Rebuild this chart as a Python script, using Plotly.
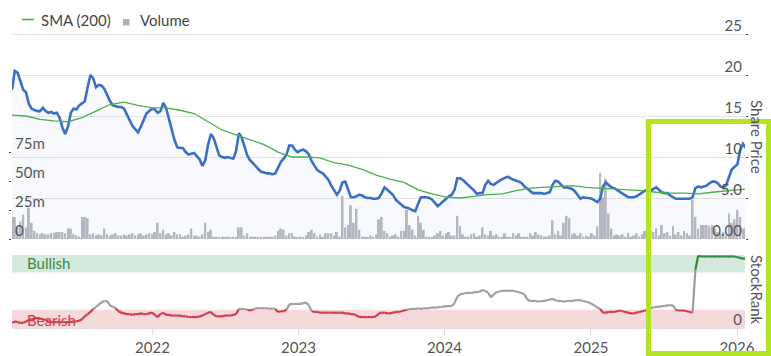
import pandas as pd
import plotly.graph_objects as go

# ---------------- data (weekly) ----------------
start_date = "2021-01-15"
n_weeks = 263
dates = pd.date_range(start_date, periods=n_weeks, freq="7D")

price = [
    18.2, 20.5, 20.3, 19.2, 18.2, 17.9, 16.5, 15.9, 15.7, 15.6,
    15.6, 16.0, 15.6, 15.4, 15.5, 15.3, 15.4, 14.8, 13.6, 12.8,
    13.7, 15.4, 15.9, 15.8, 16.3, 16.5, 16.8, 18.5, 20.0, 19.6,
    18.5, 18.8, 18.7, 18.3, 17.5, 16.8, 16.3, 16.2, 16.1, 16.1,
    15.9, 15.2, 14.5, 13.8, 13.4, 13.0, 13.7, 14.6, 15.3, 15.6,
    15.9, 15.8, 15.4, 15.6, 16.6, 16.0, 14.6, 13.5, 12.1, 11.2,
    11.1, 11.1, 10.6, 10.3, 10.4, 10.5, 10.1, 9.7, 8.9, 9.6,
    11.5, 12.8, 12.3, 11.1, 10.2, 10.0, 9.9, 10.0, 9.9, 9.8,
    10.7, 12.9, 12.4, 11.3, 10.2, 9.6, 9.3, 8.9, 8.5, 8.2,
    8.1, 8.0, 8.0, 7.9, 8.0, 8.7, 9.4, 9.8, 10.3, 11.4,
    11.4, 10.9, 10.6, 10.8, 10.9, 10.7, 10.3, 9.5, 8.9, 8.4,
    8.2, 8.0, 7.6, 7.2, 6.5, 5.9, 5.4, 5.9, 6.9, 7.0,
    6.0, 5.1, 5.1, 5.2, 5.4, 5.3, 5.1, 5.0, 5.0, 4.9,
    4.9, 5.0, 5.6, 6.3, 6.0, 5.7, 5.4, 4.8, 4.5, 4.3,
    3.9, 3.8, 3.7, 3.5, 3.4, 4.3, 5.1, 5.1, 5.1, 5.0,
    4.8, 4.4, 4.0, 4.3, 4.6, 5.0, 5.2, 5.4, 6.0, 7.4,
    7.4, 7.2, 6.9, 6.6, 6.3, 5.9, 5.5, 5.6, 5.6, 6.6,
    7.1, 6.7, 6.6, 6.9, 7.1, 7.3, 7.5, 7.6, 7.4, 7.2,
    7.1, 7.0, 6.8, 6.4, 6.1, 5.8, 5.6, 5.6, 5.6, 5.6,
    5.5, 5.6, 5.7, 6.6, 7.1, 7.0, 6.6, 6.3, 6.3, 6.2,
    6.1, 5.8, 5.4, 4.9, 5.1, 5.0, 5.0, 4.9, 4.7, 4.5,
    4.9, 6.4, 6.9, 6.6, 6.3, 6.2, 6.0, 5.8, 5.5, 5.3,
    5.1, 5.1, 5.1, 5.2, 5.4, 5.7, 5.9, 5.9, 5.9, 6.1,
    6.3, 6.0, 5.7, 5.6, 5.6, 5.3, 5.1, 4.9, 4.9, 4.9,
    4.9, 4.9, 4.9, 5.1, 6.2, 6.4, 6.3, 6.4, 6.5, 6.8,
    7.0, 7.0, 6.8, 6.4, 6.3, 6.6, 7.5, 8.5, 8.8, 9.1,
    10.9, 11.6, 11.1,
]

volume_m = [
    19, 19, 10, 15, 21, 10, 27, 14, 7, 5,
    4, 5, 4, 4, 5, 5, 6, 6, 6, 5,
    9, 9, 4, 3, 2, 19, 19, 18, 4, 5,
    3, 4, 3, 9, 4, 3, 4, 5, 3, 3,
    4, 3, 4, 5, 3, 4, 5, 3, 4, 5,
    4, 6, 14, 5, 8, 4, 5, 3, 6, 4,
    4, 2, 3, 4, 9, 3, 3, 2, 4, 14,
    6, 8, 2, 2, 1, 2, 1, 2, 1, 2,
    1, 10, 10, 3, 5, 2, 2, 2, 1, 2,
    2, 1, 2, 2, 3, 7, 9, 8, 3, 5,
    5, 2, 1, 2, 1, 3, 6, 8, 5, 2,
    4, 2, 5, 5, 5, 3, 6, 2, 37, 10,
    12, 29, 14, 26, 8, 2, 2, 1, 3, 2,
    4, 17, 19, 7, 5, 2, 3, 4, 2, 7,
    7, 25, 12, 8, 3, 20, 14, 8, 2, 2,
    1, 3, 5, 7, 3, 5, 6, 3, 3, 20,
    11, 4, 2, 2, 4, 5, 2, 3, 10, 4,
    3, 7, 3, 4, 2, 2, 5, 2, 1, 5,
    3, 5, 2, 2, 2, 5, 3, 6, 4, 3,
    2, 2, 3, 16, 4, 7, 3, 14, 20, 18,
    4, 5, 3, 5, 2, 3, 2, 5, 3, 11,
    57, 36, 52, 22, 9, 3, 4, 3, 4, 2,
    5, 2, 3, 5, 2, 4, 7, 3, 8, 6,
    9, 3, 12, 5, 6, 3, 11, 4, 6, 3,
    7, 5, 3, 34, 19, 9, 12, 12, 12, 11,
    12, 9, 6, 5, 6, 3, 22, 14, 17, 25,
    19, 9, 10,
]

# SMA(200) read every 5 weeks (index into weekly dates)
sma_idx = list(range(0, 261, 5)) + [262]
sma_vals = [
    15.1, 15.0, 14.6, 14.4, 14.3, 14.8, 15.6, 16.4, 16.7, 16.3,
    16.0, 16.0, 15.7, 15.3, 14.3, 13.3, 12.7, 12.1, 11.5, 10.6,
    10.0, 10.0, 9.9, 9.3, 9.0, 8.5, 7.8, 7.3, 6.9, 6.0,
    5.5, 5.1, 5.0, 5.2, 5.4, 5.5, 5.9, 6.2, 6.3, 6.4,
    6.5, 6.3, 6.2, 6.1, 6.0, 5.9, 5.7, 5.6, 5.6, 5.5,
    5.7, 5.9, 6.1, 6.1,
]

stockrank = [
    7, 9, 8, 7, 7, 9, 11, 12, 13, 14,
    13, 12, 11, 9, 8, 8, 8, 8, 8, 8,
    8, 8, 9, 9, 10, 12, 16, 19, 22, 26,
    29, 32, 35, 37, 37, 31, 29, 27, 23, 21,
    20, 19, 19, 18, 19, 19, 20, 19, 19, 20,
    21, 18, 15, 19, 21, 18, 18, 17, 17, 17,
    17, 16, 16, 15, 15, 15, 15, 16, 17, 19,
    21, 22, 18, 16, 16, 16, 17, 17, 17, 18,
    19, 26, 26, 26, 25, 24, 25, 27, 27, 27,
    27, 27, 26, 27, 26, 22, 23, 23, 25, 32,
    33, 33, 33, 33, 34, 35, 31, 23, 22, 22,
    21, 21, 21, 21, 21, 21, 21, 21, 21, 20,
    20, 19, 19, 17, 15, 15, 15, 15, 15, 15,
    16, 20, 21, 21, 20, 20, 21, 22, 22, 23,
    24, 25, 26, 26, 26, 27, 26, 27, 27, 27,
    28, 28, 28, 29, 29, 30, 30, 30, 34, 43,
    46, 47, 48, 48, 48, 49, 49, 50, 52, 51,
    48, 42, 46, 49, 50, 51, 51, 51, 51, 51,
    50, 49, 48, 46, 39, 37, 37, 37, 36, 37,
    37, 38, 39, 40, 38, 37, 37, 36, 37, 37,
    37, 38, 38, 38, 37, 36, 35, 33, 31, 28,
    26, 21, 21, 22, 22, 22, 23, 24, 23, 22,
    21, 20, 20, 21, 22, 23, 24, 25, 27, 28,
    29, 29, 30, 30, 31, 31, 31, 25, 24, 24,
    24, 23, 22, 21, 80, 99, 98, 98, 98, 98,
    98, 98, 98, 98, 98, 98, 98, 98, 98, 97,
    96, 95, 95,
]

price_ticks = [0, 5, 10, 15, 20, 25]
price_ticktext = ["0.00", "5.0", "10", "15", "20", "25"]
vol_ticks = [0, 25, 50, 75]
vol_ticktext = ["0", "25m", "50m", "75m"]
year_ticks = ["2022-01-01", "2023-01-01", "2024-01-01", "2025-01-01", "2026-01-01"]
year_labels = ["2022", "2023", "2024", "2025", "2026"]

bearish_max, bullish_min = 25.5, 75

# ---------------- figure ----------------
W, H = 771, 356
ML, MR, MT, MB = 12, 26, 18, 28
PW = W - ML - MR
PH = H - MT - MB
FONT = "Lato, 'Open Sans', sans-serif"
TXT = "#555555"
SMA_COL = "#4cae4c"
VOL_COL = "#b9bac1"

# pixel layout helpers (pixel rows from the top of the figure)
PRICE_ZERO_PX, PRICE_PX_PER_UNIT = 239, 41 / 5
VOL_PX_PER_M = 29 / 25
SR_TOP_PX = 255


def py(p):  # pixel row -> paper y
    return (H - MB - p) / PH


def px(p):  # pixel col -> paper x
    return (p - ML) / PW


fig = go.Figure()

fig.add_trace(go.Bar(
    x=dates, y=volume_m, name="Volume", yaxis="y", xaxis="x",
    marker=dict(color=VOL_COL, line=dict(width=0)),
    showlegend=False, hoverinfo="skip",
))

fig.add_trace(go.Scatter(
    x=dates, y=price, yaxis="y2", xaxis="x", mode="lines",
    line=dict(color="#3b6fc2", width=2.6),
    fill="tozeroy", fillcolor="rgba(70,110,190,0.045)",
    showlegend=False, hoverinfo="skip",
))

fig.add_trace(go.Scatter(
    x=[dates[i] for i in sma_idx], y=sma_vals, yaxis="y2", xaxis="x",
    mode="lines", name="SMA (200)", line=dict(color=SMA_COL, width=1.3),
    showlegend=False, hoverinfo="skip",
))

# StockRank line, coloured by zone
segs = {"red": ([], []), "gray": ([], []), "green": ([], [])}
for i in range(len(stockrank) - 1):
    mid = (stockrank[i] + stockrank[i + 1]) / 2
    key = "red" if mid < bearish_max else ("green" if mid > bullish_min else "gray")
    xs, ys = segs[key]
    xs += [dates[i], dates[i + 1], None]
    ys += [stockrank[i], stockrank[i + 1], None]
zone_col = {"red": "#d43a4b", "gray": "#9c9c9c", "green": "#2b8a3e"}
for k, (xs, ys) in segs.items():
    fig.add_trace(go.Scatter(
        x=xs, y=ys, yaxis="y3", xaxis="x", mode="lines",
        line=dict(color=zone_col[k], width=2.2), showlegend=False,
        connectgaps=False, hoverinfo="skip",
    ))

price_top_val = (PRICE_ZERO_PX - MT) / PRICE_PX_PER_UNIT
vol_top_val = (PRICE_ZERO_PX - MT) / VOL_PX_PER_M

fig.update_layout(
    width=W, height=H,
    margin=dict(l=ML, r=MR, t=MT, b=MB, autoexpand=False),
    paper_bgcolor="white", plot_bgcolor="white",
    font=dict(family=FONT, size=15, color=TXT),
    bargap=0.3,
    showlegend=False,
    xaxis=dict(type="date", range=["2021-01-15", "2026-01-21"], anchor="y3",
               showgrid=False, zeroline=False,
               showline=True, linecolor="#e0e0e0", linewidth=1,
               tickvals=year_ticks, ticktext=year_labels,
               ticks="outside", ticklen=6, tickcolor="#dcdcdc",
               ticklabeloverflow="allow",
               tickfont=dict(size=15, color=TXT)),
    yaxis=dict(domain=[py(PRICE_ZERO_PX), 1.0], range=[0, vol_top_val],
               side="left", showgrid=False, zeroline=False,
               tickvals=vol_ticks, ticktext=vol_ticktext,
               ticklabelposition="inside", ticklabelshift=-8,
               ticklabeloverflow="allow",
               ticks="outside", ticklen=2, tickcolor="#444",
               tickfont=dict(size=15, color=TXT)),
    yaxis2=dict(overlaying="y", side="right", range=[0, price_top_val],
                showgrid=True, gridcolor="#e4e4e4", gridwidth=1, zeroline=False,
                tickvals=price_ticks, ticktext=price_ticktext,
                ticklabelposition="inside", ticklabelshift=-8,
                ticklabeloverflow="allow",
                ticks="outside", ticklen=2, tickcolor="#444",
                tickfont=dict(size=15, color=TXT)),
    yaxis3=dict(domain=[0, py(SR_TOP_PX)], range=[0, 100], side="right", anchor="x",
                showgrid=False, zeroline=False,
                tickvals=[0], ticktext=["0"],
                ticklabelposition="inside", ticklabelshift=-8, ticks="",
                ticklabeloverflow="allow",
                tickfont=dict(size=15, color=TXT)),
    shapes=[
        dict(type="rect", xref="paper", yref="y3", x0=0, x1=1, y0=76, y1=100,
             fillcolor="#d5e9dc", line=dict(width=0), layer="below"),
        dict(type="rect", xref="paper", yref="y3", x0=0, x1=1, y0=0, y1=25,
             fillcolor="#f5dadd", line=dict(width=0), layer="below"),
        dict(type="rect", xref="paper", yref="paper",
             x0=px(648.5), x1=px(768.5), y0=py(353.5), y1=py(121.5),
             line=dict(color="#b4e31f", width=5), fillcolor="rgba(0,0,0,0)",
             layer="above"),
        # legend symbols
        dict(type="line", xref="paper", yref="paper",
             x0=px(22), x1=px(34), y0=py(19.5), y1=py(19.5),
             line=dict(color=SMA_COL, width=1.6)),
        dict(type="rect", xref="paper", yref="paper",
             x0=px(123), x1=px(129.5), y0=py(25.5), y1=py(19),
             fillcolor="#b0b1b8", line=dict(width=0)),
    ],
    annotations=[
        dict(text="SMA (200)", xref="paper", yref="paper", x=px(39), y=py(20),
             xanchor="left", yanchor="middle", showarrow=False,
             font=dict(size=15, color="#444")),
        dict(text="Volume", xref="paper", yref="paper", x=px(138), y=py(20),
             xanchor="left", yanchor="middle", showarrow=False,
             font=dict(size=15, color="#444")),
        dict(text="Bullish", xref="paper", yref="y3", x=px(25),
             y=89, xanchor="left", yanchor="middle", showarrow=False,
             font=dict(size=15, color="#3a8a4a")),
        dict(text="Bearish", xref="paper", yref="y3", x=px(25),
             y=11, xanchor="left", yanchor="middle", showarrow=False,
             font=dict(size=15, color="#d43a4b")),
        dict(text="Share Price", xref="paper", yref="paper",
             x=px(757), y=py(137),
             xanchor="center", yanchor="middle", textangle=90, showarrow=False,
             font=dict(size=15, color=TXT)),
        dict(text="StockRank", xref="paper", yref="paper",
             x=px(757), y=py(290),
             xanchor="center", yanchor="middle", textangle=90, showarrow=False,
             font=dict(size=15, color=TXT)),
    ],
)

fig.write_html(
    "out.html",
    config={"displayModeBar": False},
    post_script="document.body.style.margin='0px';document.body.style.overflow='hidden';",
)
